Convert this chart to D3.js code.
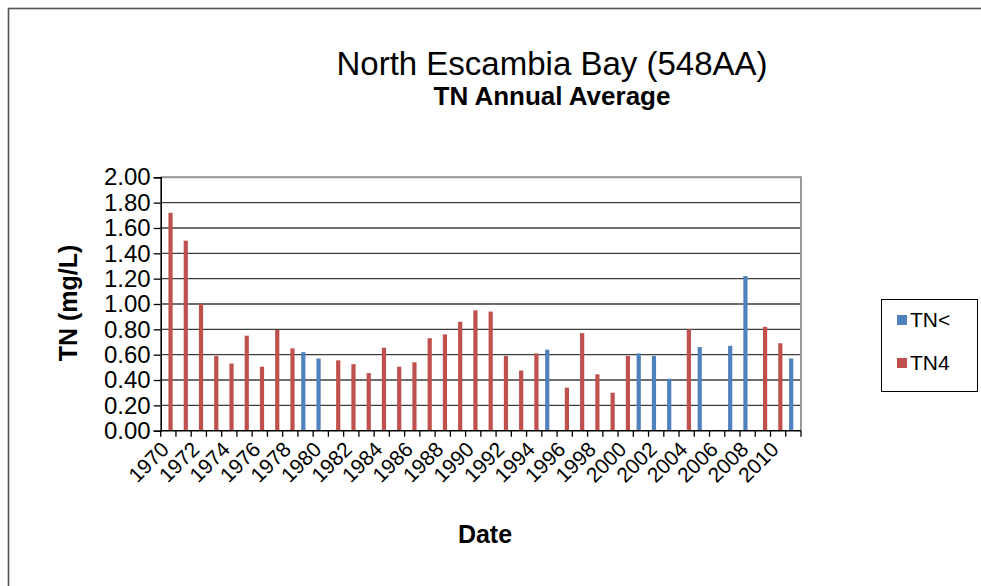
<!DOCTYPE html>
<html>
<head>
<meta charset="utf-8">
<script src="https://cdn.jsdelivr.net/npm/d3@7"></script>
<style>
  body { margin: 0; background: #fff; }
  text { font-family: "Liberation Sans", Arial, sans-serif; fill: #000; }
</style>
</head>
<body>
<div id="chart"></div>
<script>
// data (null = no bar that year)
var years = d3.range(1970, 2012).map(String);
var seriesNames = ["TN<", "TN4"];
var tnLess = [null, null, null, null, null, null, null, null, null, 0.62,
              0.57, null, null, null, null, null, null, null, null, null,
              null, null, null, null, null, 0.64, null, null, null, null,
              null, 0.61, 0.59, 0.41, null, 0.66, null, 0.67, 1.22, null,
              null, 0.57];
var tn4 = [1.72, 1.50, 1.00, 0.59, 0.53, 0.75, 0.505, 0.795, 0.65, null,
           null, 0.555, 0.525, 0.455, 0.655, 0.505, 0.54, 0.73, 0.76, 0.86,
           0.95, 0.94, 0.59, 0.475, 0.61, null, 0.34, 0.77, 0.445, 0.30,
           0.59, null, null, null, 0.80, null, null, null, null, 0.82,
           0.69, null];
var yTicks = d3.range(0, 2.0001, 0.2);
var colors = {"TN<": "#4f81bd", "TN4": "#c0504d"};

var W = 981, H = 586;
var plot = {l: 160.7, r: 801, t: 177.3, b: 430.7};

var svg = d3.select("#chart").append("svg")
    .attr("width", W).attr("height", H);

// outer chart border (runs off the right/bottom edge)
svg.append("rect")
    .attr("x", 8.5).attr("y", 8.5)
    .attr("width", 1000).attr("height", 600)
    .attr("fill", "#fff").attr("stroke", "#555").attr("stroke-width", 1.6);

var x = d3.scaleBand().domain(years).range([plot.l, plot.r]);
var xs = d3.scaleBand().domain(seriesNames).range([0, x.bandwidth()])
    .paddingOuter(0.75).paddingInner(0.05);
var y = d3.scaleLinear().domain([0, 2]).range([plot.b, plot.t]);

// gridlines
svg.append("g").selectAll("line").data(yTicks.slice(1)).enter().append("line")
    .attr("x1", plot.l).attr("x2", plot.r)
    .attr("y1", function(d){ return y(d); }).attr("y2", function(d){ return y(d); })
    .attr("stroke", "#3c3c3c").attr("stroke-width", 1.3);

// plot frame (top / right gray)
svg.append("path")
    .attr("d", "M" + plot.l + "," + plot.t + "H" + plot.r + "V" + plot.b)
    .attr("fill", "none").attr("stroke", "#999").attr("stroke-width", 2);

// bars
var rows = years.map(function(yr, i){ return {year: yr, "TN<": tnLess[i], "TN4": tn4[i]}; });
var groups = svg.append("g").selectAll("g").data(rows).enter().append("g")
    .attr("transform", function(d){ return "translate(" + x(d.year) + ",0)"; });
groups.selectAll("rect")
    .data(function(d){ return seriesNames.filter(function(s){ return d[s] != null; })
        .map(function(s){ return {key: s, value: d[s]}; }); })
    .enter().append("rect")
    .attr("x", function(d){ return xs(d.key); })
    .attr("width", xs.bandwidth())
    .attr("y", function(d){ return y(d.value); })
    .attr("height", function(d){ return y(0) - y(d.value); })
    .attr("fill", function(d){ return colors[d.key]; });

// y axis
var yAxis = svg.append("g")
    .attr("transform", "translate(" + plot.l + ",0)")
    .call(d3.axisLeft(y).tickValues(yTicks).tickFormat(d3.format(".2f"))
        .tickSize(7).tickPadding(3));
yAxis.select(".domain").attr("stroke", "#000").attr("stroke-width", 1.6);
yAxis.selectAll(".tick line").attr("stroke", "#000").attr("stroke-width", 1.3);
yAxis.selectAll("text").style("font-size", "24px")
    .style("font-family", "'Liberation Sans', Arial, sans-serif").attr("fill", "#000");

// x axis: ticks at category boundaries, labels every second year
var xAxis = svg.append("g").attr("transform", "translate(0," + plot.b + ")");
xAxis.append("line").attr("x1", plot.l).attr("x2", plot.r)
    .attr("stroke", "#000").attr("stroke-width", 1.6);
var edges = years.map(function(yr){ return x(yr); }).concat([plot.r]);
xAxis.selectAll(".xt").data(edges).enter().append("line").attr("class", "xt")
    .attr("x1", function(d){ return d; }).attr("x2", function(d){ return d; })
    .attr("y1", 0).attr("y2", 6)
    .attr("stroke", "#000").attr("stroke-width", 1.3);
xAxis.selectAll(".xl").data(years.filter(function(yr){ return +yr % 2 === 0; }))
    .enter().append("text").attr("class", "xl")
    .attr("transform", function(d){
        return "translate(" + (x(d) + x.bandwidth() / 2 + 2) + ",20) rotate(-45)"; })
    .attr("text-anchor", "end")
    .style("font-size", "21px")
    .text(function(d){ return d; });

// titles
svg.append("text").attr("x", 552).attr("y", 75).attr("text-anchor", "middle")
    .style("font-size", "33px").text("North Escambia Bay (548AA)");
svg.append("text").attr("x", 552).attr("y", 105).attr("text-anchor", "middle")
    .style("font-size", "26px").style("font-weight", "bold").text("TN Annual Average");
svg.append("text").attr("transform", "translate(77,303) rotate(-90)")
    .attr("text-anchor", "middle")
    .style("font-size", "25px").style("font-weight", "bold").text("TN (mg/L)");
svg.append("text").attr("x", 485).attr("y", 543).attr("text-anchor", "middle")
    .style("font-size", "25px").style("font-weight", "bold").text("Date");

// legend
var leg = svg.append("g");
leg.append("rect").attr("x", 881.5).attr("y", 299.5).attr("width", 96).attr("height", 92)
    .attr("fill", "#fff").attr("stroke", "#000").attr("stroke-width", 1);
var li = leg.selectAll(".li").data(seriesNames).enter().append("g").attr("class", "li")
    .attr("transform", function(d, i){ return "translate(897," + (315 + i * 43) + ")"; });
li.append("rect").attr("width", 10).attr("height", 10)
    .attr("fill", function(d){ return colors[d]; });
li.append("text").attr("x", 13).attr("y", 12).style("font-size", "21px")
    .text(function(d){ return d; });
</script>
</body>
</html>
